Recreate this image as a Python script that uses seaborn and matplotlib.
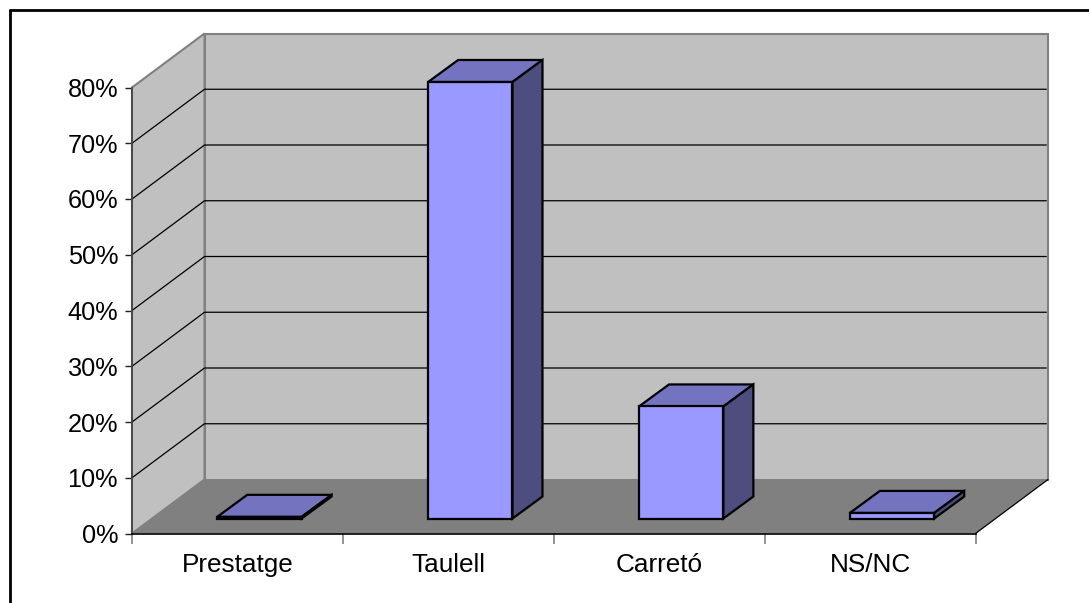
import matplotlib
matplotlib.use("Agg")
import matplotlib.pyplot as plt
from matplotlib.lines import Line2D
import pandas as pd
import seaborn as sns

categories = ["Prestatge", "Taulell", "Carretó", "NS/NC"]
values = [0.3, 78.3, 20.1, 1.0]
y_ticks = [0, 10, 20, 30, 40, 50, 60, 70, 80]
y_labels = ["0%", "10%", "20%", "30%", "40%", "50%", "60%", "70%", "80%"]

FIG_W = 1089
FIG_H = 603
PX_LEFT = 132
PX_RIGHT = 975.5
PX_BOTTOM = 533.5
PX_TOP = 87.5

FRONT = "#9999FF"
TOP = "#7373BF"
SIDE = "#4D4D80"
WALL = "#C0C0C0"
FLOOR = "#808080"

sns.set_style("white")
plt.rcParams["font.family"] = ["Liberation Sans", "DejaVu Sans"]

# px -> data units
unit_x = (PX_RIGHT - PX_LEFT) / 4
unit_y = (PX_BOTTOM - PX_TOP) / 80


def add_axes_px(fig, shift_x=0, shift_y=0):
    return fig.add_axes([
        (PX_LEFT + shift_x) / FIG_W,
        (FIG_H - PX_BOTTOM + shift_y) / FIG_H,
        (PX_RIGHT - PX_LEFT) / FIG_W,
        (PX_BOTTOM - PX_TOP) / FIG_H,
    ])


def draw_box(ax):
    # walls and floor, oblique offset of 72 px by 54 px
    dx = 72.5 / unit_x
    dy = 54 / unit_y
    x0, x1 = -0.5, 3.5

    ax.fill([x0 + dx, x1 + dx, x1 + dx, x0 + dx], [dy, dy, 80 + dy, 80 + dy],
            facecolor=WALL, edgecolor=FLOOR, lw=1.5, clip_on=False, zorder=1)
    ax.fill([x0, x0 + dx, x0 + dx, x0], [0, dy, 80 + dy, 80],
            facecolor=WALL, edgecolor=FLOOR, lw=1.5, clip_on=False, zorder=1.2)
    ax.fill([x0, x0 + dx, x1 + dx, x1], [0, dy, dy, 0], color=FLOOR, lw=0, clip_on=False, zorder=1.3)

    for t in y_ticks[1:-1]:
        ax.plot([x0, x0 + dx, x1 + dx - 0.008], [t, t + dy, t + dy], color="black", lw=0.9,
                clip_on=False, zorder=1.5)
    ax.plot([x1, x1 + dx], [0, dy], color="black", lw=0.9, clip_on=False, zorder=1.5)


def draw_bars(ax):
    df = pd.DataFrame({"Zona": categories, "Percent": values})
    sns.barplot(data=df, x="Zona", y="Percent", color=FRONT, saturation=1, width=0.4,
                edgecolor="black", linewidth=1.6, ax=ax, zorder=3, clip_on=False)

    dx = 30 / unit_x
    dy = 22 / unit_y
    for bar in ax.patches:
        x = bar.get_x()
        w = bar.get_width()
        h = bar.get_height()
        bar.set_clip_on(False)
        ax.fill([x, x + dx, x + w + dx, x + w], [h, h + dy, h + dy, h],
                facecolor=TOP, edgecolor="black", lw=1.6, clip_on=False, zorder=2)
        ax.fill([x + w, x + w + dx, x + w + dx, x + w], [0, dy, h + dy, h],
                facecolor=SIDE, edgecolor="black", lw=1.6, clip_on=False, zorder=2)

    ax.set_xlim(-0.5, 3.5)
    ax.set_ylim(0, 80)
    ax.axis("off")


def main():
    fig = plt.figure(figsize=(FIG_W / 100, FIG_H / 100), dpi=100, facecolor="white")

    ax = add_axes_px(fig)
    ax.patch.set_visible(False)
    draw_box(ax)
    ax.set_xlim(-0.5, 3.5)
    ax.set_ylim(0, 80)

    ax.set_yticks(y_ticks)
    ax.set_yticklabels(y_labels, fontsize=18.2, color="black")
    ax.set_xticks([-0.5, 0.5, 1.5, 2.5, 3.5])
    ax.set_xticklabels([])
    ax.set_xticks([0, 1, 2, 3], minor=True)
    ax.set_xticklabels(categories, minor=True, fontsize=18.8, color="black")
    ax.tick_params(axis="y", left=True, length=5, width=1, color="#202020", pad=5)
    ax.tick_params(axis="x", which="major", bottom=True, length=7, width=1.2, color=FLOOR)
    ax.tick_params(axis="x", which="minor", bottom=False, length=0, pad=14)

    sns.despine(ax=ax, top=True, right=True)
    ax.spines["bottom"].set_color("black")
    ax.spines["bottom"].set_linewidth(1.2)
    ax.spines["left"].set_color("#404040")
    ax.spines["left"].set_linewidth(1.2)
    ax.spines["left"].set_zorder(2)
    ax.set_xlabel("")
    ax.set_ylabel("")

    bars_ax = add_axes_px(fig, shift_x=22, shift_y=15)
    bars_ax.patch.set_visible(False)
    draw_bars(bars_ax)

    # outer frame, only the top and left sides show
    fx = 10 / FIG_W
    fy = 1 - 10 / FIG_H
    fig.add_artist(Line2D([fx, fx], [0, fy], color="black", lw=2))
    fig.add_artist(Line2D([fx, 1], [fy, fy], color="black", lw=2))

    fig.savefig("out.png", dpi=100)


if __name__ == "__main__":
    main()
